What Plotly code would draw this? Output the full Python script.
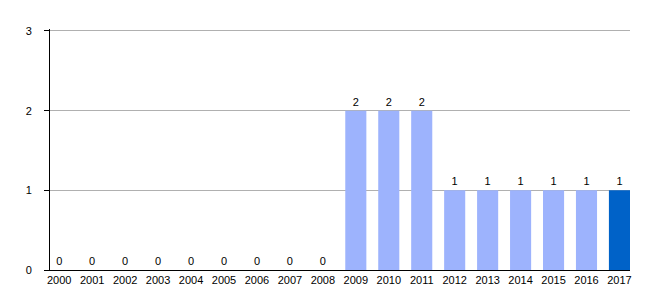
import plotly.graph_objects as go

years = [str(y) for y in range(2000, 2018)]
values = [0, 0, 0, 0, 0, 0, 0, 0, 0, 2, 2, 2, 1, 1, 1, 1, 1, 1]
light = "#9db3fd"
dark = "#0062c8"
colors = [light] * 17 + [dark]

fig = go.Figure(go.Bar(
    x=years, y=values, marker=dict(color=colors, line=dict(width=0)),
    width=0.64, text=[str(v) for v in values], textposition="outside",
    textfont=dict(size=11, color="#000000", family="Liberation Sans, Arial"),
    cliponaxis=False,
))
fig.update_layout(
    width=660, height=300, margin=dict(l=50, r=30, t=29, b=30),
    plot_bgcolor="white", paper_bgcolor="white", showlegend=False,
    font=dict(family="Liberation Sans, Arial", size=11, color="#000000"),
)
fig.update_xaxes(type="category", range=[-0.28, 17.32], showline=True, linecolor="black",
                 linewidth=1, ticks="", showgrid=False, tickfont=dict(size=11))
fig.update_yaxes(range=[0, 3.025], tickvals=[0, 1, 2, 3], showline=True, linecolor="black",
                 linewidth=1, ticks="outside", ticklen=5, tickcolor="black",
                 showgrid=True, gridcolor="#b0b0b0", gridwidth=1, zeroline=False,
                 tickfont=dict(size=11), ticklabelstandoff=10)
fig.write_html("out.html")
